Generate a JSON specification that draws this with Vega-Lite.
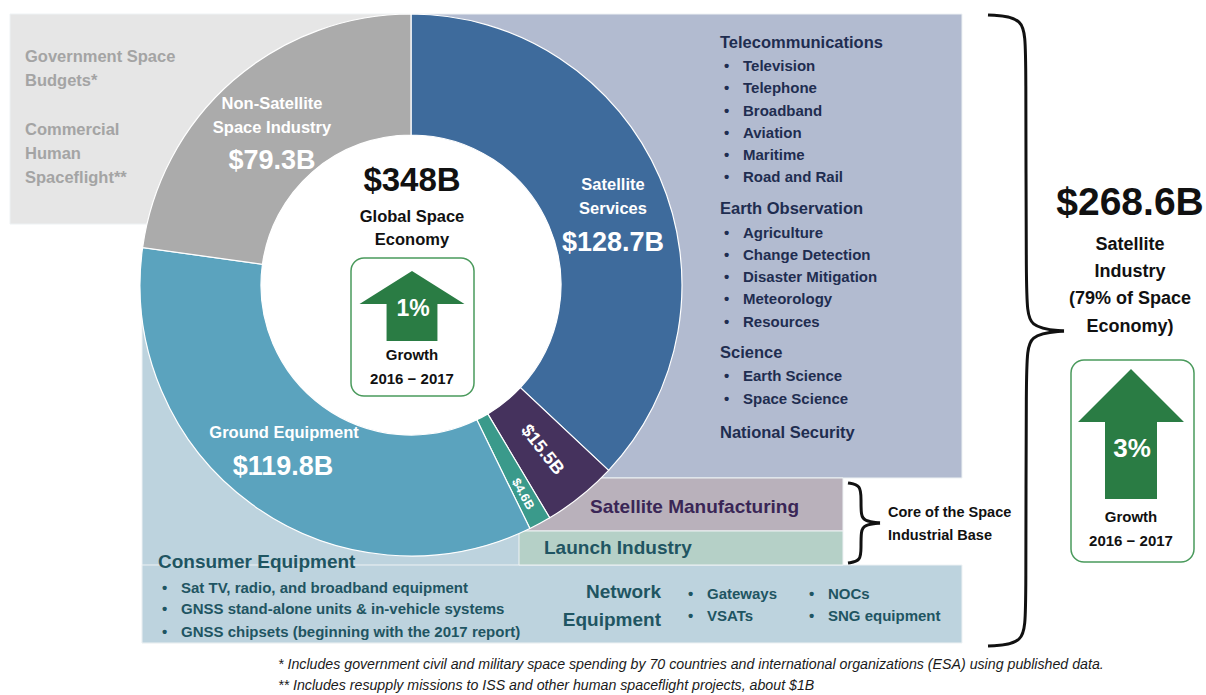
{
  "$schema": "https://vega.github.io/schema/vega-lite/v6.json",
  "width": 1206,
  "height": 695,
  "padding": 0,
  "autosize": {"type": "none"},
  "background": "white",
  "config": {
    "view": {"stroke": null},
    "text": {"font": "Liberation Sans, Arial, sans-serif", "fontWeight": "bold", "baseline": "middle"}
  },
  "resolve": {"scale": {"color": "independent"}},
  "datasets": {
    "segments": [
      {"segment": "Satellite Services", "value": 128.7, "k": 1},
      {"segment": "Satellite Manufacturing", "value": 15.5, "k": 2},
      {"segment": "Launch Industry", "value": 4.6, "k": 3},
      {"segment": "Ground Equipment", "value": 119.8, "k": 4},
      {"segment": "Non-Satellite Space Industry", "value": 79.3, "k": 5}
    ],
    "panels": [
      {"panel": "Consumer Equipment", "x": 142, "x2": 540, "y": 262, "y2": 643},
      {"panel": "Network Equipment", "x": 142, "x2": 962, "y": 565, "y2": 643},
      {"panel": "Satellite Services", "x": 411, "x2": 962, "y": 14, "y2": 478},
      {"panel": "Government", "x": 10, "x2": 411, "y": 14, "y2": 224},
      {"panel": "Satellite Manufacturing", "x": 520, "x2": 843, "y": 478, "y2": 531},
      {"panel": "Launch Industry", "x": 519, "x2": 843, "y": 531, "y2": 565}
    ],
    "boxes": [
      {"box": "Global growth", "x": 351, "x2": 474, "y": 258, "y2": 396},
      {"box": "Satellite growth", "x": 1071, "x2": 1194, "y": 360, "y2": 562}
    ],
    "braces": [
      {"part": "a", "k": 1, "x": 988, "y": 15},
      {"part": "a", "k": 2, "x": 1025, "y": 17},
      {"part": "a", "k": 3, "x": 1026, "y": 50},
      {"part": "a", "k": 4, "x": 1026, "y": 300},
      {"part": "a", "k": 5, "x": 1028, "y": 328},
      {"part": "a", "k": 6, "x": 1064, "y": 331},
      {"part": "b", "k": 1, "x": 1064, "y": 331},
      {"part": "b", "k": 2, "x": 1028, "y": 334},
      {"part": "b", "k": 3, "x": 1026, "y": 362},
      {"part": "b", "k": 4, "x": 1026, "y": 612},
      {"part": "b", "k": 5, "x": 1025, "y": 644},
      {"part": "b", "k": 6, "x": 988, "y": 646},
      {"part": "c", "k": 1, "x": 848, "y": 483},
      {"part": "c", "k": 2, "x": 861, "y": 485},
      {"part": "c", "k": 3, "x": 861, "y": 500},
      {"part": "c", "k": 4, "x": 861, "y": 515},
      {"part": "c", "k": 5, "x": 864, "y": 521},
      {"part": "c", "k": 6, "x": 880, "y": 523},
      {"part": "d", "k": 1, "x": 880, "y": 523},
      {"part": "d", "k": 2, "x": 864, "y": 525},
      {"part": "d", "k": 3, "x": 861, "y": 531},
      {"part": "d", "k": 4, "x": 861, "y": 547},
      {"part": "d", "k": 5, "x": 861, "y": 561},
      {"part": "d", "k": 6, "x": 848, "y": 563}
    ],
    "labels": [
      {"role": "gray", "x": 25, "y": 57, "t": "Government Space"},
      {"role": "gray", "x": 25, "y": 81, "t": "Budgets*"},
      {"role": "gray", "x": 25, "y": 130, "t": "Commercial"},
      {"role": "gray", "x": 25, "y": 154, "t": "Human"},
      {"role": "gray", "x": 25, "y": 178, "t": "Spaceflight**"},
      {"role": "segName", "x": 272, "y": 104, "t": "Non-Satellite"},
      {"role": "segName", "x": 272, "y": 128, "t": "Space Industry"},
      {"role": "segName", "x": 613, "y": 185, "t": "Satellite"},
      {"role": "segName", "x": 613, "y": 209, "t": "Services"},
      {"role": "segName", "x": 284, "y": 433, "t": "Ground Equipment"},
      {"role": "segVal", "x": 272, "y": 161, "t": "$79.3B"},
      {"role": "segVal", "x": 613, "y": 243, "t": "$128.7B"},
      {"role": "segVal", "x": 283, "y": 467, "t": "$119.8B"},
      {"role": "big1", "x": 412, "y": 181, "t": "$348B"},
      {"role": "big2", "x": 1130, "y": 203, "t": "$268.6B"},
      {"role": "mid", "x": 412, "y": 217, "t": "Global Space"},
      {"role": "mid", "x": 412, "y": 240, "t": "Economy"},
      {"role": "mid2", "x": 1130, "y": 245, "t": "Satellite"},
      {"role": "mid2", "x": 1130, "y": 272, "t": "Industry"},
      {"role": "mid2", "x": 1130, "y": 299, "t": "(79% of Space"},
      {"role": "mid2", "x": 1130, "y": 327, "t": "Economy)"},
      {"role": "small", "x": 412, "y": 355, "t": "Growth"},
      {"role": "small", "x": 412, "y": 379, "t": "2016 − 2017"},
      {"role": "small", "x": 1131, "y": 517, "t": "Growth"},
      {"role": "small", "x": 1131, "y": 541, "t": "2016 − 2017"},
      {"role": "pct1", "x": 413, "y": 309, "t": "1%"},
      {"role": "pct2", "x": 1132, "y": 449, "t": "3%"},
      {"role": "navyHead", "x": 720, "y": 43, "t": "Telecommunications"},
      {"role": "navyHead", "x": 720, "y": 209, "t": "Earth Observation"},
      {"role": "navyHead", "x": 720, "y": 353, "t": "Science"},
      {"role": "navyHead", "x": 720, "y": 433, "t": "National Security"},
      {"role": "navyItem", "x": 743, "y": 66, "t": "Television"},
      {"role": "navyItem", "x": 743, "y": 88, "t": "Telephone"},
      {"role": "navyItem", "x": 743, "y": 111, "t": "Broadband"},
      {"role": "navyItem", "x": 743, "y": 133, "t": "Aviation"},
      {"role": "navyItem", "x": 743, "y": 155, "t": "Maritime"},
      {"role": "navyItem", "x": 743, "y": 177, "t": "Road and Rail"},
      {"role": "navyItem", "x": 743, "y": 233, "t": "Agriculture"},
      {"role": "navyItem", "x": 743, "y": 255, "t": "Change Detection"},
      {"role": "navyItem", "x": 743, "y": 277, "t": "Disaster Mitigation"},
      {"role": "navyItem", "x": 743, "y": 299, "t": "Meteorology"},
      {"role": "navyItem", "x": 743, "y": 322, "t": "Resources"},
      {"role": "navyItem", "x": 743, "y": 376, "t": "Earth Science"},
      {"role": "navyItem", "x": 743, "y": 399, "t": "Space Science"},
      {"role": "navyBullet", "x": 724, "y": 66, "t": "•"},
      {"role": "navyBullet", "x": 724, "y": 88, "t": "•"},
      {"role": "navyBullet", "x": 724, "y": 111, "t": "•"},
      {"role": "navyBullet", "x": 724, "y": 133, "t": "•"},
      {"role": "navyBullet", "x": 724, "y": 155, "t": "•"},
      {"role": "navyBullet", "x": 724, "y": 177, "t": "•"},
      {"role": "navyBullet", "x": 724, "y": 233, "t": "•"},
      {"role": "navyBullet", "x": 724, "y": 255, "t": "•"},
      {"role": "navyBullet", "x": 724, "y": 277, "t": "•"},
      {"role": "navyBullet", "x": 724, "y": 299, "t": "•"},
      {"role": "navyBullet", "x": 724, "y": 322, "t": "•"},
      {"role": "navyBullet", "x": 724, "y": 376, "t": "•"},
      {"role": "navyBullet", "x": 724, "y": 399, "t": "•"},
      {"role": "purple", "x": 590, "y": 507, "t": "Satellite Manufacturing"},
      {"role": "tealHead", "x": 544, "y": 548, "t": "Launch Industry"},
      {"role": "tealHead", "x": 158, "y": 562, "t": "Consumer Equipment"},
      {"role": "tealItem", "x": 181, "y": 588, "t": "Sat TV, radio, and broadband equipment"},
      {"role": "tealItem", "x": 181, "y": 609, "t": "GNSS stand-alone units & in-vehicle systems"},
      {"role": "tealItem", "x": 181, "y": 632, "t": "GNSS chipsets (beginning with the 2017 report)"},
      {"role": "tealItem", "x": 707, "y": 594, "t": "Gateways"},
      {"role": "tealItem", "x": 707, "y": 616, "t": "VSATs"},
      {"role": "tealItem", "x": 828, "y": 594, "t": "NOCs"},
      {"role": "tealItem", "x": 828, "y": 616, "t": "SNG equipment"},
      {"role": "tealBullet", "x": 162, "y": 588, "t": "•"},
      {"role": "tealBullet", "x": 162, "y": 609, "t": "•"},
      {"role": "tealBullet", "x": 162, "y": 632, "t": "•"},
      {"role": "tealBullet", "x": 688, "y": 594, "t": "•"},
      {"role": "tealBullet", "x": 688, "y": 616, "t": "•"},
      {"role": "tealBullet", "x": 809, "y": 594, "t": "•"},
      {"role": "tealBullet", "x": 809, "y": 616, "t": "•"},
      {"role": "netHead", "x": 661, "y": 592, "t": "Network"},
      {"role": "netHead", "x": 661, "y": 620, "t": "Equipment"},
      {"role": "core", "x": 888, "y": 513, "t": "Core of the Space"},
      {"role": "core", "x": 888, "y": 536, "t": "Industrial Base"},
      {"role": "foot", "x": 278, "y": 665, "t": "* Includes government civil and military space spending by 70 countries and international organizations (ESA) using published data."},
      {"role": "foot", "x": 278, "y": 686, "t": "** Includes resupply missions to ISS and other human spaceflight projects, about $1B"},
      {"role": "rot1", "x": 542, "y": 450, "t": "$15.5B"},
      {"role": "rot2", "x": 523, "y": 494, "t": "$4.6B"}
    ]
  },
  "layer": [
    {
      "data": {"name": "panels"},
      "mark": {"type": "rect", "stroke": "#eef2f4", "strokeWidth": 1},
      "encoding": {
        "x": {"field": "x", "type": "quantitative", "scale": {"domain": [0, 1206], "nice": false, "zero": false}, "axis": null},
        "y": {"field": "y", "type": "quantitative", "scale": {"domain": [0, 695], "reverse": true, "nice": false, "zero": false}, "axis": null},
        "x2": {"field": "x2"},
        "y2": {"field": "y2"},
        "color": {
          "field": "panel", "type": "nominal", "legend": null,
          "scale": {
            "domain": ["Consumer Equipment", "Network Equipment", "Satellite Services", "Government", "Satellite Manufacturing", "Launch Industry"],
            "range": ["#bdd3de", "#bdd3de", "#b2bbd0", "#e6e6e6", "#b9b1bb", "#b5d0c7"]
          }
        }
      }
    },
    {
      "data": {"name": "segments"},
      "mark": {"type": "arc", "outerRadius": 271, "innerRadius": 150, "stroke": "white", "strokeWidth": 1.2},
      "encoding": {
        "x": {"datum": 411, "type": "quantitative", "axis": null},
        "y": {"datum": 285, "type": "quantitative", "axis": null},
        "theta": {"field": "value", "type": "quantitative", "stack": true},
        "order": {"field": "k", "type": "quantitative"},
        "color": {
          "field": "segment", "type": "nominal", "legend": null,
          "scale": {
            "domain": ["Satellite Services", "Satellite Manufacturing", "Launch Industry", "Ground Equipment", "Non-Satellite Space Industry"],
            "range": ["#3e6b9c", "#45325d", "#3a9a8b", "#5ba3be", "#ababab"]
          }
        }
      }
    },
    {
      "data": {"values": [{"c": "center"}]},
      "mark": {"type": "point", "shape": "circle", "size": 90000, "filled": true, "fill": "white", "opacity": 1, "strokeWidth": 0},
      "encoding": {
        "x": {"datum": 411, "type": "quantitative", "axis": null},
        "y": {"datum": 285, "type": "quantitative", "axis": null}
      }
    },
    {
      "data": {"name": "boxes"},
      "mark": {"type": "rect", "fill": "white", "stroke": "#4a9a5c", "strokeWidth": 1.5, "cornerRadius": 13},
      "encoding": {
        "x": {"field": "x", "type": "quantitative", "axis": null},
        "y": {"field": "y", "type": "quantitative", "axis": null},
        "x2": {"field": "x2"},
        "y2": {"field": "y2"}
      }
    },
    {
      "data": {"values": [{"c": "arrow1"}]},
      "mark": {"type": "point", "shape": "M0,-0.66L0.99,-0.04L0.48,-0.04L0.48,0.66L-0.48,0.66L-0.48,-0.04L-0.99,-0.04Z", "size": 11236, "filled": true, "fill": "#2a7c44", "opacity": 1, "strokeWidth": 0},
      "encoding": {
        "x": {"datum": 412, "type": "quantitative", "axis": null},
        "y": {"datum": 306, "type": "quantitative", "axis": null}
      }
    },
    {
      "data": {"values": [{"c": "arrow2"}]},
      "mark": {"type": "point", "shape": "M0,-1L0.815,-0.185L0.4,-0.185L0.4,1L-0.4,1L-0.4,-0.185L-0.815,-0.185Z", "size": 16900, "filled": true, "fill": "#2a7c44", "opacity": 1, "strokeWidth": 0},
      "encoding": {
        "x": {"datum": 1131, "type": "quantitative", "axis": null},
        "y": {"datum": 434, "type": "quantitative", "axis": null}
      }
    },
    {
      "data": {"name": "braces"},
      "mark": {"type": "line", "interpolate": "basis", "color": "#111111", "strokeWidth": 3},
      "encoding": {
        "x": {"field": "x", "type": "quantitative", "axis": null},
        "y": {"field": "y", "type": "quantitative", "axis": null},
        "order": {"field": "k", "type": "quantitative"},
        "detail": {"field": "part", "type": "nominal"}
      }
    },
    {
      "data": {"name": "labels"},
      "transform": [{"filter": "datum.role === 'gray'"}],
      "mark": {"type": "text", "align": "left", "fontSize": 16.5, "color": "#a4a4a4"},
      "encoding": {"x": {"field": "x", "type": "quantitative", "axis": null}, "y": {"field": "y", "type": "quantitative", "axis": null}, "text": {"field": "t"}}
    },
    {
      "data": {"name": "labels"},
      "transform": [{"filter": "datum.role === 'segName'"}],
      "mark": {"type": "text", "align": "center", "fontSize": 16.5, "color": "#ffffff"},
      "encoding": {"x": {"field": "x", "type": "quantitative", "axis": null}, "y": {"field": "y", "type": "quantitative", "axis": null}, "text": {"field": "t"}}
    },
    {
      "data": {"name": "labels"},
      "transform": [{"filter": "datum.role === 'segVal'"}],
      "mark": {"type": "text", "align": "center", "fontSize": 27, "color": "#ffffff"},
      "encoding": {"x": {"field": "x", "type": "quantitative", "axis": null}, "y": {"field": "y", "type": "quantitative", "axis": null}, "text": {"field": "t"}}
    },
    {
      "data": {"name": "labels"},
      "transform": [{"filter": "datum.role === 'big1'"}],
      "mark": {"type": "text", "align": "center", "fontSize": 33, "color": "#111111"},
      "encoding": {"x": {"field": "x", "type": "quantitative", "axis": null}, "y": {"field": "y", "type": "quantitative", "axis": null}, "text": {"field": "t"}}
    },
    {
      "data": {"name": "labels"},
      "transform": [{"filter": "datum.role === 'big2'"}],
      "mark": {"type": "text", "align": "center", "fontSize": 39, "color": "#111111"},
      "encoding": {"x": {"field": "x", "type": "quantitative", "axis": null}, "y": {"field": "y", "type": "quantitative", "axis": null}, "text": {"field": "t"}}
    },
    {
      "data": {"name": "labels"},
      "transform": [{"filter": "datum.role === 'mid'"}],
      "mark": {"type": "text", "align": "center", "fontSize": 16.5, "color": "#111111"},
      "encoding": {"x": {"field": "x", "type": "quantitative", "axis": null}, "y": {"field": "y", "type": "quantitative", "axis": null}, "text": {"field": "t"}}
    },
    {
      "data": {"name": "labels"},
      "transform": [{"filter": "datum.role === 'mid2'"}],
      "mark": {"type": "text", "align": "center", "fontSize": 18, "color": "#111111"},
      "encoding": {"x": {"field": "x", "type": "quantitative", "axis": null}, "y": {"field": "y", "type": "quantitative", "axis": null}, "text": {"field": "t"}}
    },
    {
      "data": {"name": "labels"},
      "transform": [{"filter": "datum.role === 'small'"}],
      "mark": {"type": "text", "align": "center", "fontSize": 15, "color": "#111111"},
      "encoding": {"x": {"field": "x", "type": "quantitative", "axis": null}, "y": {"field": "y", "type": "quantitative", "axis": null}, "text": {"field": "t"}}
    },
    {
      "data": {"name": "labels"},
      "transform": [{"filter": "datum.role === 'pct1'"}],
      "mark": {"type": "text", "align": "center", "fontSize": 23, "color": "#ffffff"},
      "encoding": {"x": {"field": "x", "type": "quantitative", "axis": null}, "y": {"field": "y", "type": "quantitative", "axis": null}, "text": {"field": "t"}}
    },
    {
      "data": {"name": "labels"},
      "transform": [{"filter": "datum.role === 'pct2'"}],
      "mark": {"type": "text", "align": "center", "fontSize": 26, "color": "#ffffff"},
      "encoding": {"x": {"field": "x", "type": "quantitative", "axis": null}, "y": {"field": "y", "type": "quantitative", "axis": null}, "text": {"field": "t"}}
    },
    {
      "data": {"name": "labels"},
      "transform": [{"filter": "datum.role === 'navyHead'"}],
      "mark": {"type": "text", "align": "left", "fontSize": 16.5, "color": "#1f2d50"},
      "encoding": {"x": {"field": "x", "type": "quantitative", "axis": null}, "y": {"field": "y", "type": "quantitative", "axis": null}, "text": {"field": "t"}}
    },
    {
      "data": {"name": "labels"},
      "transform": [{"filter": "datum.role === 'navyItem' || datum.role === 'navyBullet'"}],
      "mark": {"type": "text", "align": "left", "fontSize": 15, "color": "#1f2d50"},
      "encoding": {"x": {"field": "x", "type": "quantitative", "axis": null}, "y": {"field": "y", "type": "quantitative", "axis": null}, "text": {"field": "t"}}
    },
    {
      "data": {"name": "labels"},
      "transform": [{"filter": "datum.role === 'purple'"}],
      "mark": {"type": "text", "align": "left", "fontSize": 19, "color": "#3a2656"},
      "encoding": {"x": {"field": "x", "type": "quantitative", "axis": null}, "y": {"field": "y", "type": "quantitative", "axis": null}, "text": {"field": "t"}}
    },
    {
      "data": {"name": "labels"},
      "transform": [{"filter": "datum.role === 'tealHead'"}],
      "mark": {"type": "text", "align": "left", "fontSize": 19, "color": "#1f5562"},
      "encoding": {"x": {"field": "x", "type": "quantitative", "axis": null}, "y": {"field": "y", "type": "quantitative", "axis": null}, "text": {"field": "t"}}
    },
    {
      "data": {"name": "labels"},
      "transform": [{"filter": "datum.role === 'tealItem' || datum.role === 'tealBullet'"}],
      "mark": {"type": "text", "align": "left", "fontSize": 15, "color": "#1f5562"},
      "encoding": {"x": {"field": "x", "type": "quantitative", "axis": null}, "y": {"field": "y", "type": "quantitative", "axis": null}, "text": {"field": "t"}}
    },
    {
      "data": {"name": "labels"},
      "transform": [{"filter": "datum.role === 'netHead'"}],
      "mark": {"type": "text", "align": "right", "fontSize": 19, "color": "#1f5562"},
      "encoding": {"x": {"field": "x", "type": "quantitative", "axis": null}, "y": {"field": "y", "type": "quantitative", "axis": null}, "text": {"field": "t"}}
    },
    {
      "data": {"name": "labels"},
      "transform": [{"filter": "datum.role === 'core'"}],
      "mark": {"type": "text", "align": "left", "fontSize": 14.5, "color": "#111111"},
      "encoding": {"x": {"field": "x", "type": "quantitative", "axis": null}, "y": {"field": "y", "type": "quantitative", "axis": null}, "text": {"field": "t"}}
    },
    {
      "data": {"name": "labels"},
      "transform": [{"filter": "datum.role === 'foot'"}],
      "mark": {"type": "text", "align": "left", "fontSize": 14.2, "fontWeight": "normal", "fontStyle": "italic", "color": "#1a1a1a"},
      "encoding": {"x": {"field": "x", "type": "quantitative", "axis": null}, "y": {"field": "y", "type": "quantitative", "axis": null}, "text": {"field": "t"}}
    },
    {
      "data": {"name": "labels"},
      "transform": [{"filter": "datum.role === 'rot1'"}],
      "mark": {"type": "text", "align": "center", "fontSize": 18, "angle": 52, "color": "#ffffff"},
      "encoding": {"x": {"field": "x", "type": "quantitative", "axis": null}, "y": {"field": "y", "type": "quantitative", "axis": null}, "text": {"field": "t"}}
    },
    {
      "data": {"name": "labels"},
      "transform": [{"filter": "datum.role === 'rot2'"}],
      "mark": {"type": "text", "align": "center", "fontSize": 12.5, "angle": 61, "color": "#ffffff"},
      "encoding": {"x": {"field": "x", "type": "quantitative", "axis": null}, "y": {"field": "y", "type": "quantitative", "axis": null}, "text": {"field": "t"}}
    }
  ]
}
